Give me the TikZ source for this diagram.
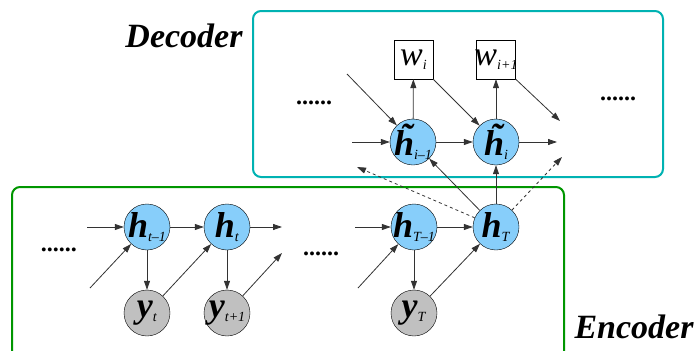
\documentclass[tikz,border=0pt]{standalone}
\usepackage{fontspec}
\setmainfont{Liberation Serif}
\usetikzlibrary{arrows.meta}
\definecolor{hblue}{RGB}{135,206,250}
\definecolor{ygray}{RGB}{192,192,192}
\definecolor{decteal}{RGB}{0,178,178}
\definecolor{encgreen}{RGB}{0,150,0}
% state label: big bold italic letter with a small italic subscript
\newcommand{\statelab}[2]{\makebox[0pt][c]{\fontsize{36}{36}\selectfont\textbf{\textit{#1}}\raisebox{-4pt}{\fontsize{14}{14}\selectfont\textit{#2}}}}
% word label: italic w with a small subscript
\newcommand{\wordlab}[1]{\makebox[0pt][c]{\fontsize{34}{34}\selectfont\textit{w}\raisebox{-4pt}{\fontsize{14}{14}\selectfont\textit{#1}}}}
\newcommand{\tilh}{\accent"02DC h}
\begin{document}
\begin{tikzpicture}[x=1pt,y=1pt,yscale=-1,
    hstate/.style={circle,draw,fill=hblue,minimum size=46pt,inner sep=0pt},
    ystate/.style={circle,draw,fill=ygray,minimum size=46pt,inner sep=0pt},
    wbox/.style={rectangle,draw,minimum size=39pt,inner sep=0pt},
    arr/.style={-{Triangle[length=9pt,width=6pt]},line width=0.8pt,draw=black!80},
    darr/.style={arr,dashed},
    dots/.style={font=\fontsize{24}{24}\selectfont\bfseries},
    boxlab/.style={font=\fontsize{34}{34}\selectfont\bfseries\itshape}]
    \useasboundingbox (0,0) rectangle (697,351);

    %Decoder and Encoder frames
    \draw [decteal,line width=2pt,rounded corners=8pt] (253,11) rectangle (663,177);
    \draw [encgreen,line width=2pt,rounded corners=8pt] (12,360) -- (12,187) -- (564,187) -- (564,360);

    % Text Node
    \node [boxlab] (declab) at (184,36) {Decoder};
    \node [boxlab] (enclab) at (634,327) {Encoder};

    %Decoder states
    \node [hstate] (hd1) at (413,142) {\statelab{\tilh}{i–1}};
    \node [hstate] (hd2) at (496,142) {\statelab{\tilh}{i}};
    \node [wbox] (w1) at (413.5,59.5) {\wordlab{i}};
    \node [wbox] (w2) at (496,59.5) {\wordlab{i+1}};
    \node [dots] (dd1) at (314,103) {......};
    \node [dots] (dd2) at (618,99) {......};

    %Encoder states
    \node [hstate] (h1) at (147,227) {\statelab{h}{t–1}};
    \node [hstate] (h2) at (227,227) {\statelab{h}{t}};
    \node [hstate] (h3) at (414,227) {\statelab{h}{T–1}};
    \node [hstate] (h4) at (496,227) {\statelab{h}{T}};
    \node [ystate] (y1) at (147,313) {\statelab{y}{t}};
    \node [ystate] (y2) at (227,313) {\statelab{y}{t+1}};
    \node [ystate] (y3) at (414,313) {\statelab{y}{T}};
    \node [dots] (ed1) at (59,250) {......};
    \node [dots] (ed2) at (321,254) {......};

    %free ends
    \coordinate (dinl) at (352,142);
    \coordinate (dind) at (347,74);
    \coordinate (doutr) at (557,142);
    \coordinate (doutd) at (560,121);
    \coordinate (attl) at (357,167);
    \coordinate (attr) at (562,157);
    \coordinate (einl) at (87,227);
    \coordinate (eind) at (90,288);
    \coordinate (eoutr) at (282,227);
    \coordinate (eoutd) at (282,253);
    \coordinate (minl) at (355,227);
    \coordinate (mind) at (358,288);

    %Decoder connectors
    \draw [arr] (dinl) -- (hd1);
    \draw [arr] (dind) -- (hd1);
    \draw [arr] (hd1) -- (hd2);
    \draw [arr] (hd2) -- (doutr);
    \draw [arr] (hd1) -- (w1);
    \draw [arr] (hd2) -- (w2);
    \draw [arr] (w1.south east) -- (hd2);
    \draw [arr] (w2.south east) -- (doutd);

    %Encoder connectors
    \draw [arr] (einl) -- (h1);
    \draw [arr] (eind) -- (h1);
    \draw [arr] (h1) -- (h2);
    \draw [arr] (h2) -- (eoutr);
    \draw [arr] (h1) -- (y1);
    \draw [arr] (h2) -- (y2);
    \draw [arr] (y1) -- (h2);
    \draw [arr] (y2) -- (eoutd);
    \draw [arr] (minl) -- (h3);
    \draw [arr] (mind) -- (h3);
    \draw [arr] (h3) -- (h4);
    \draw [arr] (h3) -- (y3);
    \draw [arr] (y3) -- (h4);

    %Encoder to Decoder
    \draw [arr] (h4) -- (hd2);
    \draw [arr] (h4) -- (hd1);
    \draw [darr] (h4) -- (attl);
    \draw [darr] (h4) -- (attr);
\end{tikzpicture}
\end{document}
